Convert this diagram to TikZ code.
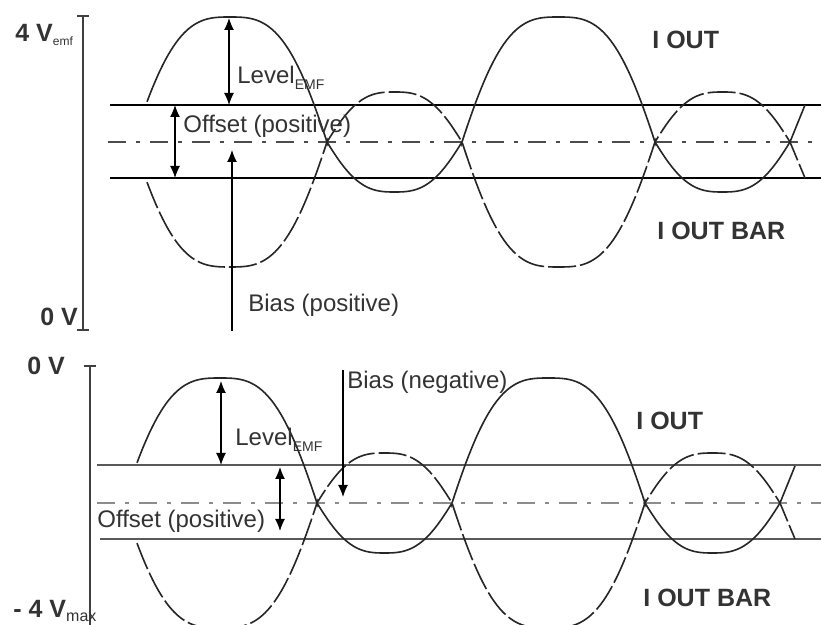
\documentclass[tikz,border=0pt]{standalone}
\usepackage{fontspec}
\setmainfont{Liberation Sans}
\usetikzlibrary{arrows.meta}

\begin{document}
\begin{tikzpicture}[
  x=0.5pt, y=-0.5pt,
  declare function={lobe(\hx,\hw,\ha)=cos(90*pow(abs(\hx)/(\hw)+0.0001,\ha));},
  lbl/.style={anchor=base west, inner sep=0pt, font=\fontsize{12}{14}\selectfont, text=black!80},
  blbl/.style={lbl, font=\fontsize{12.5}{14}\selectfont\bfseries},
  iout/.style={line width=0.8pt, black!85},
  ioutbar/.style={iout, dash pattern=on 14pt off 2pt},
  level/.style={line width=0.7pt, black},
  center/.style={line width=0.6pt, black!70, dash pattern=on 9pt off 5pt on 2pt off 5pt},
  axis/.style={line width=1.1pt, black!75},
  dim/.style={{Latex[length=6pt,width=5pt]}-{Latex[length=6pt,width=5pt]}, line width=0.6pt},
  pointer/.style={-{Latex[length=6pt,width=5pt]}, line width=0.6pt},
]
  \path[fill=white, use as bounding box] (0,0) rectangle (821,625);

  % Top panel: 0 V .. 4 V
  \draw[axis, {Bar[width=6pt]}-{Bar[width=6pt]}] (83,15) -- (83,331);
  \node[blbl] (vmax) at (15,42) {4 V\raisebox{-2pt}{\fontsize{6}{6}\selectfont\mdseries emf}};
  \node[blbl] (vzero) at (40,326) {0 V};
  \draw[level] (110,105) -- (821,105);
  \draw[level] (110,178) -- (821,178);
  \draw[center] (108,142) -- (821,142);

  % Bottom panel: 0 V .. -4 V
  \draw[axis, {Bar[width=6pt]}-] (90,365) -- (90,625);
  \node[blbl] (vzero2) at (27,375) {0 V};
  \node[blbl] (vmin) at (13,618) {- 4 V\raisebox{-2pt}{\fontsize{8}{8}\selectfont\mdseries max}};
  \draw[level, black!65, line width=1pt] (97,465) -- (821,465);
  \draw[level, black!65, line width=1pt] (100,539) -- (821,539);
  \draw[center, black!45, line width=1pt] (97,503) -- (821,503);

  % I OUT / I OUT BAR, same shape in both panels
  \foreach \dx/\dy in {0/0, -10/361} {
    \begin{scope}[shift={(\dx,\dy)}]
      \draw[iout] plot[domain=147:327, samples=70] (\x,{142-125*lobe(\x-230,97,1.5)})
        -- plot[domain=327:462, samples=50] (\x,{142+50*lobe(\x-394.5,67.5,1.4)})
        -- plot[domain=462:655, samples=70] (\x,{142-125*lobe(\x-558.5,96.5,1.5)})
        -- plot[domain=655:790, samples=50] (\x,{142+50*lobe(\x-722.5,67.5,1.4)})
        -- (805,105);
      \draw[ioutbar] plot[domain=147:327, samples=70] (\x,{142+125*lobe(\x-230,97,1.5)})
        -- plot[domain=327:462, samples=50] (\x,{142-50*lobe(\x-394.5,67.5,1.4)})
        -- plot[domain=462:655, samples=70] (\x,{142+125*lobe(\x-558.5,96.5,1.5)})
        -- plot[domain=655:790, samples=50] (\x,{142-50*lobe(\x-722.5,67.5,1.4)})
        -- (805,178);
    \end{scope}
  }

  % Top labels and arrows
  \node[lbl] (level1) at (237,84) {Level\raisebox{-3pt}{\fontsize{7}{7}\selectfont EMF}};
  \node[lbl] (offset1) at (183,133) {Offset (positive)};
  \node[lbl] (bias1) at (248,312) {Bias (positive)};
  \node[blbl] (iout1) at (652,49) {I OUT};
  \node[blbl] (ioutbar1) at (657,240) {I OUT BAR};
  \coordinate (lvl1a) at (229,18);
  \coordinate (lvl1b) at (229,105);
  \coordinate (off1a) at (175,105);
  \coordinate (off1b) at (175,178);
  \coordinate (bias1a) at (232,331);
  \coordinate (bias1b) at (232,150);
  \draw[dim] (lvl1a) -- (lvl1b);
  \draw[dim] (off1a) -- (off1b);
  \draw[pointer] (bias1a) -- (bias1b);

  % Bottom labels and arrows
  \node[lbl] (level2) at (235,446) {Level\raisebox{-3pt}{\fontsize{7}{7}\selectfont EMF}};
  \node[lbl] (offset2) at (97,528) {Offset (positive)};
  \node[lbl] (bias2) at (347,389) {Bias (negative)};
  \node[blbl] (iout2) at (636,430) {I OUT};
  \node[blbl] (ioutbar2) at (643,607) {I OUT BAR};
  \coordinate (lvl2a) at (221,381);
  \coordinate (lvl2b) at (221,465);
  \coordinate (off2a) at (280,467);
  \coordinate (off2b) at (280,531);
  \coordinate (bias2a) at (343,370);
  \coordinate (bias2b) at (343,497);
  \draw[dim] (lvl2a) -- (lvl2b);
  \draw[dim] (off2a) -- (off2b);
  \draw[pointer] (bias2a) -- (bias2b);
\end{tikzpicture}
\end{document}
